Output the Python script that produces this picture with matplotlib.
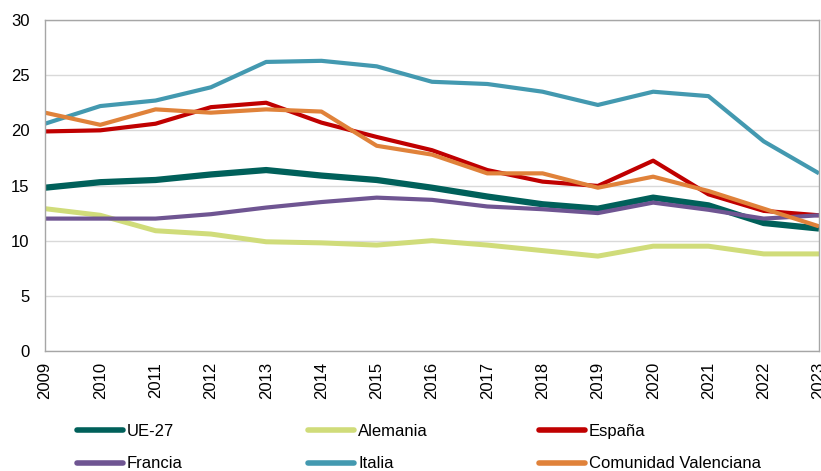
import matplotlib
matplotlib.use("Agg")
import matplotlib.pyplot as plt

# data
years = list(range(2009, 2024))
ue27 = [14.8, 15.3, 15.5, 16.0, 16.4, 15.9, 15.5, 14.8, 14.0, 13.3, 12.9, 13.9, 13.2, 11.6, 11.1]
alemania = [12.9, 12.3, 10.9, 10.6, 9.9, 9.8, 9.6, 10.0, 9.6, 9.1, 8.6, 9.5, 9.5, 8.8, 8.8]
espana = [19.9, 20.0, 20.6, 22.1, 22.5, 20.7, 19.4, 18.2, 16.4, 15.35, 14.96, 17.25, 14.2, 12.7, 12.3]
francia = [12.0, 12.0, 12.0, 12.4, 13.0, 13.5, 13.9, 13.7, 13.1, 12.85, 12.5, 13.45, 12.8, 12.0, 12.3]
italia = [20.6, 22.2, 22.7, 23.9, 26.2, 26.3, 25.8, 24.4, 24.2, 23.5, 22.3, 23.5, 23.1, 19.0, 16.1]
valenciana = [21.6, 20.5, 21.9, 21.6, 21.9, 21.7, 18.6, 17.8, 16.1, 16.1, 14.8, 15.8, 14.5, 12.9, 11.3]

plt.rcParams['font.family'] = ['Liberation Sans', 'DejaVu Sans']
plt.rcParams['font.size'] = 12

fig = plt.figure(figsize=(8.21, 4.71), dpi=100)
ax = fig.add_axes([45/821, 1-351/471, (819-45)/821, (351-20)/471])

l_ue, = ax.plot(years, ue27, color='#00605a', lw=4.5, solid_capstyle='butt', label='UE-27')
l_al, = ax.plot(years, alemania, color='#d0dc7a', lw=3.6, solid_capstyle='butt', label='Alemania')
l_es, = ax.plot(years, espana, color='#c00000', lw=3.0, solid_capstyle='butt', label='España')
l_fr, = ax.plot(years, francia, color='#6f5592', lw=3.0, solid_capstyle='butt', label='Francia')
l_it, = ax.plot(years, italia, color='#4399b0', lw=3.0, solid_capstyle='butt', label='Italia')
l_cv, = ax.plot(years, valenciana, color='#e0823a', lw=3.0, solid_capstyle='butt', label='Comunidad Valenciana')

ax.set_xlim(2009, 2023)
ax.set_ylim(0, 30)
ax.set_yticks(range(0, 31, 5))
ax.set_xticks(years)
ax.set_xticklabels([str(y) for y in years], rotation=90)
ax.tick_params(axis='y', length=0, pad=11)
ax.tick_params(axis='x', length=0, pad=8)
ax.grid(axis='y', color='#d9d9d9', lw=1)
ax.set_axisbelow(True)
for s in ax.spines.values():
    s.set_color('#a6a6a6')
    s.set_linewidth(1)

# legend: three columns placed by hand
cols = [([l_ue, l_fr], 77), ([l_al, l_it], 308), ([l_es, l_cv], 539)]
for handles, x0 in cols:
    leg = fig.legend(handles=handles, loc='upper left', bbox_to_anchor=(x0/821, 1-424/471),
                     frameon=False, handlelength=2.75, handletextpad=0.25, labelspacing=1.05,
                     borderaxespad=0, borderpad=0)
    for h in leg.get_lines():
        h.set_linewidth(4)
        h.set_solid_capstyle('round')

fig.savefig('out.png', dpi=100)
